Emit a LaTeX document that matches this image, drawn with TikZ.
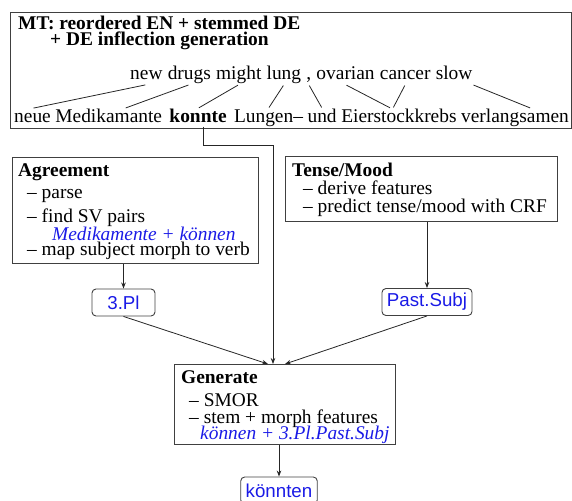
\documentclass[tikz,border=0pt]{standalone}
\usepackage{fontspec}
\setmainfont{Liberation Serif}
\newfontfamily\labfont{Liberation Sans}
\usetikzlibrary{arrows.meta,positioning}
\definecolor{labblue}{HTML}{1A1AE6}
\definecolor{boxgray}{HTML}{404040}
\tikzset{
  >={Stealth[length=6pt,width=4.5pt]},
  % boxes and words
  box/.style={draw=boxgray,line width=1pt,inner sep=0pt,anchor=north west},
  boxtxt/.style={anchor=north west,align=left,inner xsep=#1,inner ysep=6pt},
  wd/.style={inner sep=0pt,text height=13.5pt,text depth=4.5pt},
  al/.style={draw=black!85,line width=0.8pt,shorten <=1pt,shorten >=1pt},
  % labels and arrows
  lab/.style={draw=boxgray,line width=0.9pt,rounded corners=4pt,
              font=\labfont\fontsize{18.7}{20}\selectfont,text=labblue,
              inner xsep=5pt,inner ysep=0pt,minimum height=27pt},
  arr/.style={->,draw=black!85,line width=0.8pt},
}
\newcommand{\itm}{\hspace*{9pt}– }
\newcommand{\bsp}[1]{\textcolor{labblue}{\itshape #1}}

\begin{document}
\begin{tikzpicture}[x=1pt,y=-1pt,
    every node/.append style={font=\fontsize{19.4}{20}\selectfont}]
  \useasboundingbox (0,0) rectangle (572,500);
  % MT box
  \node[box,minimum width=561pt,minimum height=116pt] (mt) at (10,12) {};
  \node[boxtxt=8pt,inner ysep=4pt,font=\fontsize{19.4}{20}\selectfont\bfseries]
    (mttl) at (mt.north west)
    {MT: reordered EN + stemmed DE\\[-4pt]\hspace*{32pt}+ DE inflection generation};
  % english words
  \node[wd,anchor=base west] (new) at (130,80) {new};
  \node[wd,base right=4.85pt of new] (drugs) {drugs};
  \node[wd,base right=4.85pt of drugs] (might) {might};
  \node[wd,base right=4.85pt of might] (lung) {lung};
  \node[wd,base right=4.85pt of lung] (comma) {,};
  \node[wd,base right=4.85pt of comma] (ovarian) {ovarian};
  \node[wd,base right=4.85pt of ovarian] (cancer) {cancer};
  \node[wd,base right=4.85pt of cancer] (slow) {slow};
  % german words
  \node[wd,anchor=base west] (neue) at (14,122) {neue};
  \node[wd,base right=4.2pt of neue] (medi) {Medikamante};
  \node[wd,base right=7pt of medi,font=\fontsize{19.4}{20}\selectfont\bfseries] (konnte) {konnte};
  \node[wd,base right=7pt of konnte] (lungen) {Lungen–};
  \node[wd,base right=4.2pt of lungen] (und) {und};
  \node[wd,base right=4.2pt of und] (eier) {Eierstockkrebs};
  \node[wd,base right=4.2pt of eier] (verl) {verlangsamen};
  \draw[al] (new.south) -- (neue.north);
  \draw[al] (drugs.south) -- ([xshift=16pt]medi.north);
  \draw[al] (might.south) -- (konnte.north);
  \draw[al] (lung.south) -- (lungen.north);
  \draw[al] (comma.south) -- (und.north);
  \draw[al] (ovarian.south) -- ([xshift=-8pt]eier.north);
  \draw[al] (cancer.south) -- ([xshift=-6pt]eier.north);
  \draw[al] (slow.south east) -- ([xshift=16pt]verl.north);
  % components
  \node[box,minimum width=246pt,minimum height=106pt] (agr) at (12,157) {};
  \node[boxtxt=6pt] (agrtxt) at (agr.north west)
    {\textbf{Agreement}\\[2pt]\itm parse\\[4pt]\itm find SV pairs\\[-2pt]%
     \hspace*{34pt}\bsp{Medikamente + können}\\[-5pt]%
     \itm map subject morph to verb};
  \node[box,minimum width=272pt,minimum height=65pt] (tm) at (285,156) {};
  \node[boxtxt=7pt,inner ysep=7pt] (tmtxt) at (tm.north west)
    {\textbf{Tense/Mood}\\[-2pt]\hspace*{11pt}– derive features\\[-2pt]%
     \hspace*{11pt}– predict tense/mood with CRF};
  \node[box,minimum width=221pt,minimum height=80pt] (gen) at (174,364) {};
  \node[boxtxt=7pt] (gentxt) at (gen.north west)
    {\textbf{Generate}\\[3pt]\hspace*{8pt}– SMOR\\[-3pt]%
     \hspace*{8pt}– stem + morph features\\[-4pt]%
     \hspace*{19pt}\bsp{können + 3.Pl.Past.Subj}};
  \node[lab,minimum width=63pt] (pl) at (123.5,302.5) {3.Pl};
  \node[lab] (ps) at (427,302) {Past.Subj};
  \node[lab] (kn) at (279,490.5) {könnten};
  % arrows
  \coordinate (kjog) at (273,145);
  \draw[arr] ([xshift=5pt]konnte.south) |- (kjog) -- (kjog |- gen.north);
  \draw[arr] (pl.north |- agr.south) -- (pl.north);
  \draw[arr] (ps.north |- tm.south) -- (ps.north);
  \draw[arr] (pl.south) -- ([xshift=-17pt]gen.north);
  \draw[arr] (ps.south) -- (gen.north);
  \draw[arr] (kn.north |- gen.south) -- (kn.north);
\end{tikzpicture}
\end{document}
